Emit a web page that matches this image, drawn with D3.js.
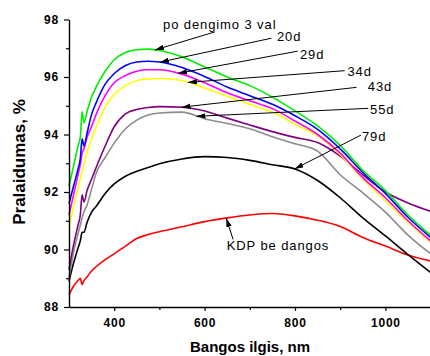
<!DOCTYPE html>
<html>
<head>
<meta charset="utf-8">
<script src="https://cdn.jsdelivr.net/npm/d3@7"></script>
<style>
  body { margin: 0; background: #fff; }
  svg { display: block; }
</style>
</head>
<body>
<svg id="chart" width="430" height="356"></svg>
<script>
// Wavelength grid, nm
const wavelengths = [300, 310, 320, 325, 329, 333, 340, 350, 360, 380, 400, 425, 450, 475, 500,
                     550, 600, 650, 700, 750, 800, 850, 900, 950, 1000, 1050, 1100];

// Transmittance, % (one array per measurement)
const kdpUncoated = [88.42, 88.72, 88.92, 89.0, 88.78, 88.92, 89.05, 89.25, 89.4, 89.65, 89.85, 90.12, 90.38, 90.52, 90.62,
                     90.79, 90.97, 91.1, 91.2, 91.25, 91.17, 91.02, 90.8, 90.42, 90.12, 89.81, 89.6];
const day79 = [88.9, 89.52, 90.05, 90.3, 90.6, 90.6, 90.95, 91.3, 91.5, 91.95, 92.28, 92.55, 92.72, 92.85, 92.98,
               93.15, 93.23, 93.2, 93.1, 92.95, 92.8, 92.4, 91.8, 91.1, 90.47, 89.82, 89.2];
const day55 = [89.0, 89.9, 90.55, 90.85, 91.1, 91.3, 91.55, 92.1, 92.65, 93.2, 93.7, 94.2, 94.5, 94.68, 94.75,
               94.78, 94.55, 94.38, 94.2, 93.92, 93.68, 93.42, 92.6, 91.97, 91.3, 90.5, 89.85];
const day43 = [89.3, 90.15, 90.85, 91.2, 91.9, 91.65, 92.05, 92.45, 92.85, 93.6, 94.27, 94.72, 94.87, 94.94, 94.97,
               94.95, 94.82, 94.57, 94.33, 94.1, 93.9, 93.72, 93.25, 92.6, 92.0, 91.62, 91.33];
const day34 = [90.8, 91.5, 92.15, 92.46, 92.7, 92.95, 93.38, 93.85, 94.25, 94.95, 95.4, 95.7, 95.88, 95.93, 95.95,
               95.88, 95.62, 95.33, 95.05, 94.78, 94.36, 93.95, 93.3, 92.45, 91.7, 90.95, 90.25];
const day29 = [91.2, 91.9, 92.6, 92.95, 93.35, 93.5, 93.9, 94.28, 94.7, 95.35, 95.8, 96.05, 96.2, 96.25, 96.25,
               96.1, 95.8, 95.45, 95.17, 94.9, 94.47, 94.0, 93.35, 92.5, 91.8, 91.0, 90.3];
const day20 = [91.6, 92.2, 92.8, 93.15, 93.85, 93.6, 94.05, 94.7, 95.1, 95.75, 96.12, 96.4, 96.52, 96.55, 96.52,
               96.33, 96.02, 95.65, 95.35, 95.05, 94.65, 94.18, 93.5, 92.68, 91.95, 91.12, 90.42];
const hours3 = [92.2, 92.9, 93.6, 93.9, 94.8, 94.4, 94.8, 95.3, 95.65, 96.2, 96.6, 96.85, 96.95, 96.97, 96.92,
                96.7, 96.35, 96.0, 95.7, 95.3, 94.82, 94.3, 93.62, 92.75, 92.05, 91.2, 90.5];

// Tick labels
const xTicks = [400, 600, 800, 1000];
const xMinorTicks = [500, 700, 900];
const yTicks = [88, 90, 92, 94, 96, 98];
const yMinorTicks = [89, 91, 93, 95, 97];

// Series, drawn bottom to top
const series = [
  { values: kdpUncoated, color: "#ff0000" },
  { values: day79, color: "#000000" },
  { values: day55, color: "#8c8c8c" },
  { values: day43, color: "#800080" },
  { values: day34, color: "#ffff00" },
  { values: day29, color: "#ff00ff" },
  { values: day20, color: "#0000ff" },
  { values: hours3, color: "#00ee00" }
];

// Callout labels: text, curve it points at, tip wavelength, label anchor and line start (data units)
const callouts = [
  { text: "po dengimo 3 val", curve: hours3, tip: 490, tx: 508, ty: 97.66, lx: 623, ly: 97.57 },
  { text: "20d", curve: day20, tip: 501, tx: 760, ty: 97.25, lx: 748, ly: 97.35 },
  { text: "29d", curve: day29, tip: 541, tx: 811, ty: 96.64, lx: 806, ly: 96.9 },
  { text: "34d", curve: day34, tip: 563, tx: 916, ty: 96.03, lx: 910, ly: 96.22 },
  { text: "43d", curve: day43, tip: 549, tx: 961, ty: 95.51, lx: 936, ly: 95.64 },
  { text: "55d", curve: day55, tip: 582, tx: 966, ty: 94.7, lx: 962, ly: 94.91 },
  { text: "79d", curve: day79, tip: 799, tx: 948, ty: 93.77, lx: 946, ly: 93.98 },
  { text: "KDP be dangos", curve: kdpUncoated, tip: 648, tx: 649, ty: 89.98, lx: 663, ly: 90.35 }
];

const svg = d3.select("#chart");
const x = d3.scaleLinear().domain([300, 1100]).range([69, 430.6]);
const y = d3.scaleLinear().domain([88, 98]).range([307, 19.5]);

// value of a curve at a wavelength between grid points
function valueAt(values, nm) {
  const i = Math.max(1, d3.bisectLeft(wavelengths, nm));
  const x0 = wavelengths[i - 1], x1 = wavelengths[i];
  return values[i - 1] + (values[i] - values[i - 1]) * (nm - x0) / (x1 - x0);
}

svg.append("defs").append("marker")
  .attr("id", "arrow")
  .attr("viewBox", "0 0 10 6")
  .attr("refX", 10).attr("refY", 3)
  .attr("markerWidth", 9).attr("markerHeight", 5.5)
  .attr("markerUnits", "userSpaceOnUse")
  .attr("orient", "auto")
  .append("path").attr("d", "M0,0L10,3L0,6Z").attr("fill", "#000");

const line = d3.line()
  .x((d, i) => x(wavelengths[i]))
  .y(d => y(d))
  .curve(d3.curveMonotoneX);

svg.append("g").selectAll("path")
  .data(series)
  .join("path")
  .attr("d", d => line(d.values))
  .attr("fill", "none")
  .attr("stroke", d => d.color)
  .attr("stroke-width", 1.6)
  .attr("stroke-linejoin", "round");

// Axes
const tickFont = "'Liberation Sans', Arial, sans-serif";
svg.append("g").attr("transform", "translate(69,0)")
  .call(d3.axisLeft(y).tickValues(yTicks).tickSize(5).tickSizeOuter(0).tickPadding(5).tickFormat(d3.format("d")));
svg.append("g").attr("transform", "translate(69,0)")
  .call(d3.axisLeft(y).tickValues(yMinorTicks).tickSize(3).tickSizeOuter(0).tickFormat(""))
  .call(g => g.select(".domain").remove());
svg.append("g").attr("transform", "translate(0,307)")
  .call(d3.axisBottom(x).tickValues(xTicks).tickSize(4).tickSizeOuter(0).tickPadding(7.3).tickFormat(d3.format("d")));
svg.append("g").attr("transform", "translate(0,307)")
  .call(d3.axisBottom(x).tickValues(xMinorTicks).tickSize(3).tickSizeOuter(0).tickFormat(""))
  .call(g => g.select(".domain").remove());

svg.selectAll(".domain").attr("stroke", "#000").attr("stroke-width", 1.4);
svg.selectAll(".tick line").attr("stroke", "#000").attr("stroke-width", 1.2);
svg.selectAll(".tick text")
  .attr("font-family", tickFont)
  .attr("font-weight", "bold")
  .attr("font-size", 12)
  .attr("letter-spacing", 0.8)
  .attr("fill", "#000");

// Axis titles
svg.append("text")
  .attr("transform", "translate(25,162) rotate(-90)")
  .attr("text-anchor", "middle")
  .attr("font-family", tickFont)
  .attr("font-weight", "bold")
  .attr("font-size", 17)
  .text("Pralaidumas, %");
svg.append("text")
  .attr("x", 250).attr("y", 352)
  .attr("text-anchor", "middle")
  .attr("font-family", tickFont)
  .attr("font-weight", "bold")
  .attr("font-size", 15)
  .text("Bangos ilgis, nm");

// Callouts
const cg = svg.append("g");
callouts.forEach(c => {
  cg.append("line")
    .attr("x1", x(c.lx)).attr("y1", y(c.ly))
    .attr("x2", x(c.tip)).attr("y2", y(valueAt(c.curve, c.tip)))
    .attr("stroke", "#000").attr("stroke-width", 1)
    .attr("marker-end", "url(#arrow)");
  cg.append("text")
    .attr("x", x(c.tx)).attr("y", y(c.ty))
    .attr("font-family", tickFont)
    .attr("font-size", 13)
    .attr("letter-spacing", 0.9)
    .attr("fill", "#000")
    .text(c.text);
});
</script>
</body>
</html>
